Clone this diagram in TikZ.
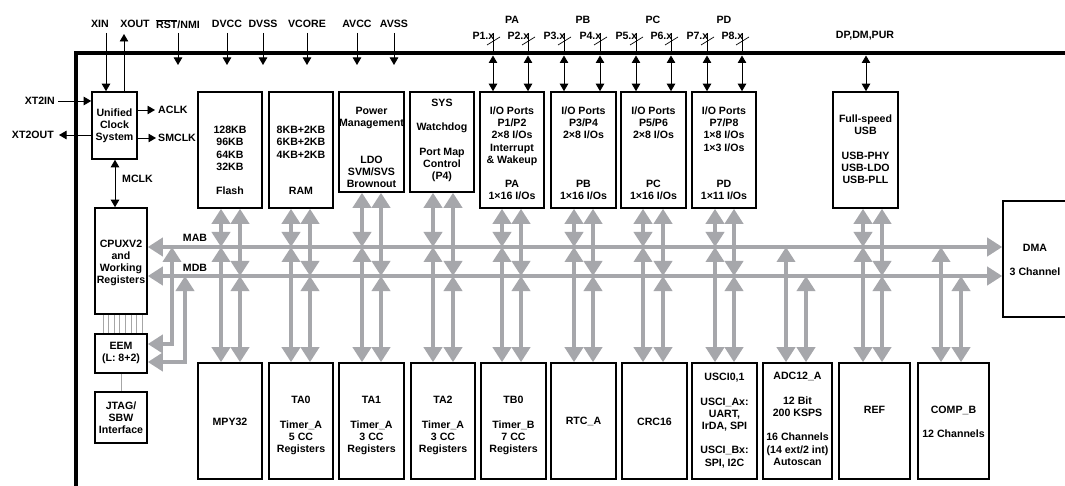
\documentclass[tikz,border=0pt]{standalone}
\usepackage{fontspec}
\setmainfont{Liberation Sans}
\usetikzlibrary{arrows.meta}
\definecolor{buscol}{RGB}{166,167,171}
\newcommand\mkbox[7]{%
  \node[blk, minimum width={(#4)-(#2)}, minimum height={(#5)-(#3)}] (#1) at ({((#2)+(#4))/2},{((#3)+(#5))/2}) {};
  \node[txt] (#1-t) at ({((#2)+(#4))/2},#6) {#7};}
\newcommand\colT[3]{\draw[garr] (#2.south -| #1,0) -- (#1,0 |- #3);}
\newcommand\colB[3]{\draw[garr] (#1,0 |- #3) -- (#2.north -| #1,0);}
\begin{document}
\begin{tikzpicture}[x=1pt,y=-1pt,
  every node/.style={font=\bfseries\fontsize{10.6}{12.2}\selectfont, inner sep=0pt},
  blk/.style={draw, line width=1.6pt},
  txt/.style={align=center},
  pin/.style={line width=0.9pt, -{Triangle[width=8.5pt,length=7.5pt]}},
  pinb/.style={line width=0.9pt, {Triangle[width=8.5pt,length=7.5pt]}-{Triangle[width=8.5pt,length=7.5pt]}},
  plain/.style={line width=0.9pt},
  garr/.style={draw=buscol, line width=4pt, {Triangle[width=18pt,length=15pt]}-{Triangle[width=18pt,length=15pt]}},
  thinl/.style={draw=gray!70, line width=0.6pt},
  slash/.style={line width=0.7pt}
]
\useasboundingbox (0,0) rectangle (1065,486);
\clip (0,0) rectangle (1065,486);
\fill[white] (0,0) rectangle (1065,486);

% frame
\draw[line width=4pt] (76,495) -- (76,53) -- (1075,53);

% blocks
\mkbox{clk}{92}{92}{137}{159}{125.5}{Unified\\Clock\\System}
\mkbox{flash}{198}{92}{262}{208}{160.5}{128KB\\96KB\\64KB\\32KB\\[12.2pt]Flash}
\mkbox{ram}{269}{92}{333}{208}{160.5}{8KB+2KB\\6KB+2KB\\4KB+2KB\\[24.4pt]RAM}
\mkbox{pm}{339}{92}{404}{192}{147.5}{Power\\Management\\[24.4pt]LDO\\SVM/SVS\\Brownout}
\mkbox{sys}{410}{92}{474}{192}{140.5}{SYS\\[12.2pt]Watchdog\\[12.2pt]Port Map\\Control\\(P4)}
\mkbox{pa}{480}{92}{544}{208}{153.5}{I/O Ports\\P1/P2\\2×8 I/Os\\Interrupt\\\& Wakeup\\[12.2pt]PA\\1×16 I/Os}
\mkbox{pb}{551}{92}{616}{208}{153.5}{I/O Ports\\P3/P4\\2×8 I/Os\\[36.6pt]PB\\1×16 I/Os}
\mkbox{pc}{621}{92}{686}{208}{153.5}{I/O Ports\\P5/P6\\2×8 I/Os\\[36.6pt]PC\\1×16 I/Os}
\mkbox{pd}{692}{92}{756}{208}{153.5}{I/O Ports\\P7/P8\\1×8 I/Os\\1×3 I/Os\\[24.4pt]PD\\1×11 I/Os}
\mkbox{usb}{833}{92}{898}{208}{149.5}{Full-speed\\USB\\[12.2pt]USB-PHY\\USB-LDO\\USB-PLL}
\mkbox{dma}{1003}{201}{1067}{317}{260}{DMA\\[12.2pt]3 Channel}
\mkbox{cpu}{95}{208}{147}{314}{263}{CPUXV2\\and\\Working\\Registers}
\mkbox{eem}{95}{334}{147}{373}{353}{EEM\\(L: 8+2)}
\mkbox{jtag}{95}{392}{147}{443}{417.5}{JTAG/\\SBW\\Interface}
\mkbox{mpy}{198}{363}{262}{479}{422}{MPY32}
\mkbox{ta0}{269}{363}{333}{479}{425.5}{TA0\\[12.2pt]Timer\_A\\5 CC\\Registers}
\mkbox{ta1}{339}{363}{404}{479}{425.5}{TA1\\[12.2pt]Timer\_A\\3 CC\\Registers}
\mkbox{ta2}{411}{363}{475}{479}{425.5}{TA2\\[12.2pt]Timer\_A\\3 CC\\Registers}
\mkbox{tb0}{481}{363}{546}{479}{425.5}{TB0\\[12.2pt]Timer\_B\\7 CC\\Registers}
\mkbox{rtc}{551}{363}{616}{479}{421}{RTC\_A}
\mkbox{crc}{622}{363}{687}{479}{422}{CRC16}
\mkbox{usci}{692}{363}{757}{479}{420.5}{USCI0,1\\[12.2pt]USCI\_Ax:\\UART,\\IrDA, SPI\\[12.2pt]USCI\_Bx:\\SPI, I2C}
\mkbox{adc}{763}{363}{832}{479}{419}{ADC12\_A\\[12.2pt]12 Bit\\200 KSPS\\[12.2pt]16 Channels\\(14 ext/2 int)\\Autoscan}
\mkbox{ref}{839}{363}{910}{479}{410}{REF}
\mkbox{comp}{918}{363}{989}{479}{422}{COMP\_B\\[12.2pt]12 Channels}

% top pins
\node (lxin) at (100,24) {XIN};
\node (lxout) at (135,24) {XOUT};
\node (lrst) at (178,24) {$\overline{\hbox{RST}}$/NMI};
\node (ldvcc) at (227,24) {DVCC};
\node (ldvss) at (263,24) {DVSS};
\node (lvcore) at (307,24) {VCORE};
\node (lavcc) at (357,24) {AVCC};
\node (lavss) at (394,24) {AVSS};
\coordinate (xin) at (106,33);
\coordinate (xout) at (124,34);
\draw[pin] (xin) -- (xin |- clk.north);
\draw[pin] (xout |- clk.north) -- (xout);
\foreach \x/\n in {178/rst,227/dvcc,263/dvss,307/vcore,357/avcc,394/avss}{
  \coordinate (p\n) at (\x,33);
  \coordinate (q\n) at (\x,65);
  \draw[pin] (p\n) -- (q\n);
}

% clock signals
\node[anchor=east] (lxt2in) at (55,101) {XT2IN};
\node[anchor=east] (lxt2out) at (54,135) {XT2OUT};
\node[anchor=west] (laclk) at (158,110) {ACLK};
\node[anchor=west] (lsmclk) at (158,138) {SMCLK};
\node[anchor=west] (lmclk) at (122,179) {MCLK};
\draw[pin] ([xshift=3pt]lxt2in.east) -- (clk.west |- lxt2in.east);
\draw[pin] (clk.west |- lxt2out.east) -- ([xshift=5pt]lxt2out.east);
\draw[pin] (clk.east |- laclk.west) -- ([xshift=-3pt]laclk.west);
\draw[pin] (clk.east |- lsmclk.west) -- ([xshift=-2pt]lsmclk.west);
\coordinate (mclk) at (115,0);
\draw[pinb] (mclk |- cpu.north) -- (mclk |- clk.south);

% ports
\node (lpa) at (512,20) {PA};
\node (lpb) at (583,20) {PB};
\node (lpc) at (653,20) {PC};
\node (lpd) at (724,20) {PD};
\foreach \x/\n/\blk in {493/1/pa,528/2/pa,564/3/pb,600/4/pb,636/5/pc,671/6/pc,707/7/pd,742/8/pd}{
  \node[anchor=east] (lp\n) at (\x+1.5,36) {P\n.x};
  \coordinate (pp\n) at (\x,33);
  \coordinate (pf\n) at (\x,55.5);
  \draw[plain] (pp\n) -- (pf\n);
  \draw[pinb] (pf\n) -- (pf\n |- \blk.north);
  \draw[slash] (\x-6,45) -- (\x+7,37);
}
\node (ldp) at (865,36) {DP,DM,PUR};
\coordinate (pusb) at (866,55.5);
\draw[pinb] (pusb) -- (pusb |- usb.north);

% buses
\coordinate (mab) at (0,247);
\coordinate (mdb) at (0,276);
\node (lmab) at (195,238) {MAB};
\node (lmdb) at (195,268) {MDB};
\draw[garr] (cpu.east |- mab) -- (dma.west |- mab);
\draw[garr] (cpu.east |- mdb) -- (dma.west |- mdb);
\draw[garr] (172,0 |- mab) |- (eem.east |- 0,344);
\draw[garr] (185,0 |- mdb) |- (eem.east |- 0,362);

\foreach \xa/\xb/\t/\b in {221/240/flash/mpy,291/310/ram/ta0,362/381/pm/ta1,433/453/sys/ta2,502/521/pa/tb0,574/593/pb/rtc,643/663/pc/crc,715/734/pd/usci,863/882/usb/ref}{
  \colT{\xa}{\t}{mab}
  \colT{\xb}{\t}{mdb}
  \colB{\xa}{\b}{mab}
  \colB{\xb}{\b}{mdb}
}
\colB{786}{adc}{mab}
\colB{806}{adc}{mdb}
\colB{941}{comp}{mab}
\colB{961}{comp}{mdb}

% CPU-EEM-JTAG thin links
\foreach \i in {0,...,7}{
  \draw[thinl] (103+5.57*\i,0 |- cpu.south) -- (103+5.57*\i,0 |- eem.north);
}
\draw[thinl] (eem.south) -- (jtag.north);
\end{tikzpicture}
\end{document}
